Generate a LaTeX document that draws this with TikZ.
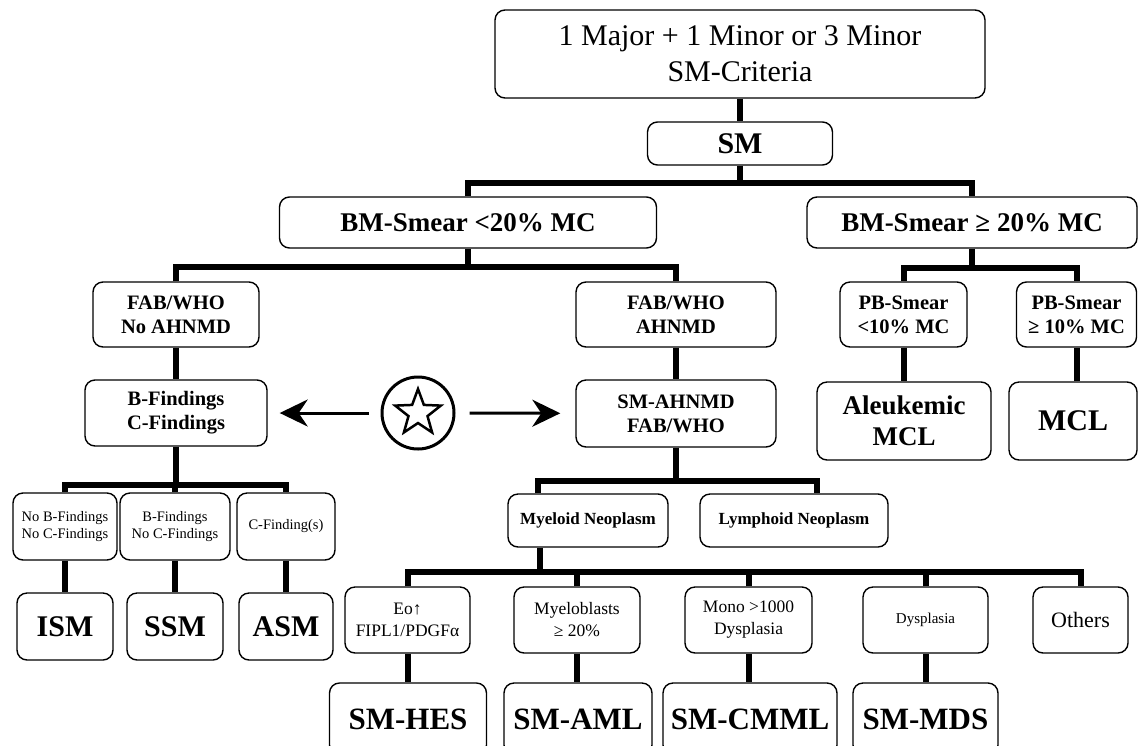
\documentclass[tikz,border=0pt]{standalone}
\usepackage{fontspec}
\setmainfont{Liberation Serif}
\usetikzlibrary{shapes.geometric,arrows.meta}
\tikzset{
  box/.style={draw, line width=1.4pt, rounded corners=10pt, inner sep=0pt, align=center, fill=white},
  conn/.style={line width=6pt},
  arr/.style={line width=3pt, -{Stealth[length=28pt,width=27pt,inset=9pt]}},
  big/.style={font=\fontsize{30}{33}\selectfont\bfseries},
  mid/.style={font=\fontsize{20.5}{24}\selectfont\bfseries},
  sml/.style={font=\fontsize{14.5}{17}\selectfont},
  leaf/.style={font=\fontsize{17.5}{22}\selectfont},
  bott/.style={font=\fontsize{31}{34}\selectfont\bfseries},
}
\begin{document}
\begin{tikzpicture}[x=1pt,y=-1pt]
\useasboundingbox (0,0) rectangle (1139,745);
\clip (0,0) rectangle (1139,745);
% boxes
\node[box, font=\fontsize{30}{36}\selectfont, minimum width=490, minimum height=88] (top) at (740,54) {1 Major + 1 Minor or 3 Minor\\SM-Criteria};
\node[box, big, minimum width=185, minimum height=43] (sm) at (740,143.5) {SM};
\node[box, font=\fontsize{27}{30}\selectfont\bfseries, minimum width=377, minimum height=51] (bml) at (468,222.5) {BM-Smear <20\% MC};
\node[box, font=\fontsize{27}{30}\selectfont\bfseries, minimum width=330, minimum height=51] (bmg) at (972,222.5) {BM-Smear ≥ 20\% MC};
\node[box, mid, minimum width=166, minimum height=65] (fabno) at (176,314.5) {FAB/WHO\\No AHNMD};
\node[box, mid, minimum width=200, minimum height=65] (fab) at (676,314.5) {FAB/WHO\\AHNMD};
\node[box, mid, minimum width=182, minimum height=66] (bcf) at (176,413) {B-Findings\\C-Findings};
\node[box, mid, minimum width=200, minimum height=67] (smah) at (676,413.5) {SM-AHNMD\\FAB/WHO};
\node[box, sml, minimum width=104, minimum height=67] (nob) at (65,526.5) {No B-Findings\\No C-Findings};
\node[box, sml, minimum width=110, minimum height=67] (bno) at (175,526.5) {B-Findings\\No C-Findings};
\node[box, sml, minimum width=98, minimum height=67] (cf) at (286,526.5) {C-Finding(s)};
\node[box, big, minimum width=96, minimum height=67] (ism) at (65,626.5) {ISM};
\node[box, big, minimum width=96, minimum height=67] (ssm) at (175,626.5) {SSM};
\node[box, big, minimum width=94, minimum height=67] (asm) at (286,626.5) {ASM};
\node[box, font=\fontsize{17}{20}\selectfont\bfseries, minimum width=160, minimum height=53] (mye) at (588,520.5) {Myeloid Neoplasm};
\node[box, font=\fontsize{17}{20}\selectfont\bfseries, minimum width=188, minimum height=53] (lym) at (794,520.5) {Lymphoid Neoplasm};
\node[box, leaf, minimum width=125, minimum height=66] (eo) at (407.5,620) {Eo↑\\FIPL1/PDGFα};
\node[box, leaf, minimum width=126, minimum height=66] (myb) at (577,620) {Myeloblasts\\≥ 20\%};
\node[box, leaf, minimum width=127, minimum height=66] (mono) at (748.5,620) {Mono >1000\\Dysplasia};
\node[box, font=\fontsize{15}{18}\selectfont, minimum width=125, minimum height=66] (dys) at (925.5,620) {Dysplasia};
\node[box, font=\fontsize{22}{25}\selectfont, minimum width=95, minimum height=66] (oth) at (1080.5,620) {Others};
\node[box, bott, minimum width=157, minimum height=72] (hes) at (408,719) {SM-HES};
\node[box, bott, minimum width=148, minimum height=72] (aml) at (578,719) {SM-AML};
\node[box, bott, minimum width=174, minimum height=72] (cmml) at (750,719) {SM-CMML};
\node[box, bott, minimum width=145, minimum height=72] (mds) at (925.5,719) {SM-MDS};
\node[box, mid, minimum width=127, minimum height=65] (pbl) at (903.5,314.5) {PB-Smear\\<10\% MC};
\node[box, mid, minimum width=120, minimum height=65] (pbg) at (1076.5,314.5) {PB-Smear\\≥ 10\% MC};
\node[box, font=\fontsize{27}{31}\selectfont\bfseries, minimum width=174, minimum height=78] (aleuk) at (904,421) {Aleukemic\\MCL};
\node[box, big, minimum width=128, minimum height=78] (mcl) at (1073,421) {MCL};
% star
\node[circle, draw, line width=3pt, minimum size=72pt, inner sep=0pt] (st) at (418,413) {};
\node[star, star points=5, star point ratio=2.4, draw, line width=2.5pt, minimum size=48pt, inner sep=0pt] (stin) at (st.center) {};
\draw[arr, shorten <=12pt, shorten >=12pt] (st) -- (bcf);
\draw[arr, shorten <=14pt, shorten >=15pt] (st) -- (smah);
% connectors
\draw[conn] (top) -- (sm);
\coordinate (j1) at (740,183);
\draw[conn] (sm.south) -- (j1);
\draw[conn] (bml.north) |- (j1) -| (bmg.north);
\coordinate (j2) at (468,267);
\draw[conn] (bml.south) -- (j2);
\draw[conn] (fabno.north) |- (j2) -| (fab.north);
\draw[conn] (fabno) -- (bcf);
\draw[conn] (fab) -- (smah);
\coordinate (j3) at (176,485);
\draw[conn] (bcf.south) -- (j3);
\draw[conn] (nob.north) |- (j3) -| (cf.north);
\draw[conn] (bno.north) -- (bno.north |- j3);
\draw[conn] (nob) -- (ism);
\draw[conn] (bno) -- (ssm);
\draw[conn] (cf) -- (asm);
\coordinate (j4) at (676,481);
\draw[conn] (smah.south) -- (j4);
\draw[conn] ([xshift=-50pt]mye.north) |- (j4) -| ([xshift=23pt]lym.north);
\coordinate (j5) at (540,572);
\draw[conn] ([xshift=-48pt]mye.south) -- (j5);
\draw[conn] (eo.north) |- (j5) -| (oth.north);
\draw[conn] (myb.north) -- (myb.north |- j5);
\draw[conn] (mono.north) -- (mono.north |- j5);
\draw[conn] (dys.north) -- (dys.north |- j5);
\draw[conn] (eo.south) -- (eo.south |- hes.north);
\draw[conn] (myb.south) -- (myb.south |- aml.north);
\draw[conn] (mono.south) -- (mono.south |- cmml.north);
\draw[conn] (dys.south) -- (dys.south |- mds.north);
\coordinate (j6) at (972,268);
\draw[conn] (bmg.south) -- (j6);
\draw[conn] (pbl.north) |- (j6) -| (pbg.north);
\draw[conn] (pbl.south) -- (pbl.south |- aleuk.north);
\draw[conn] (pbg.south) -- (pbg.south |- mcl.north);
\end{tikzpicture}
\end{document}
